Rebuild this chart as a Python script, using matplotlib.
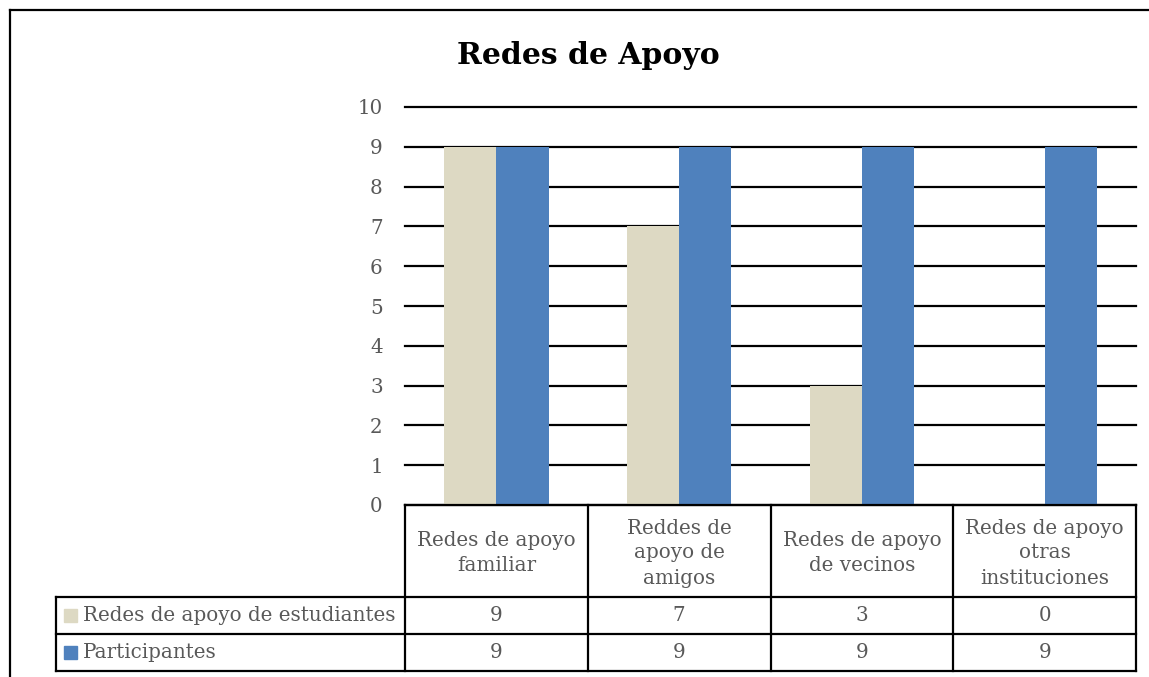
import numpy as np
import matplotlib.pyplot as plt
from matplotlib.lines import Line2D
from matplotlib.patches import Rectangle

plt.rcParams['font.family'] = ['DejaVu Serif']

titulo = 'Redes de Apoyo'
categorias = ['Redes de apoyo\nfamiliar', 'Reddes de\napoyo de\namigos',
              'Redes de apoyo\nde vecinos', 'Redes de apoyo\notras\ninstituciones']
series = ['Redes de apoyo de estudiantes', 'Participantes']
estudiantes = [9, 7, 3, 0]
participantes = [9, 9, 9, 9]
colores = ['#DDD9C3', '#4F81BD']
gris = '#595959'

W, H = 1149, 677
fig = plt.figure(figsize=(W / 100, H / 100), dpi=100)

# pixel helpers (top-left origin)
def fx(px):
    return px / W

def fy(py):
    return 1 - py / H

x0, x1, y0, y1 = 405, 1136, 505, 107
ax = fig.add_axes([fx(x0), fy(y0), fx(x1) - fx(x0), fy(y1) - fy(y0)])

n = len(categorias)
x = np.arange(n) + 0.5
bw = 0.286
ax.bar(x - bw / 2, estudiantes, bw, color=colores[0], zorder=3)
ax.bar(x + bw / 2, participantes, bw, color=colores[1], zorder=3)

ax.set_xlim(0, n)
ax.set_ylim(0, 10)
ax.set_yticks(range(0, 11))
ax.yaxis.grid(True, color='black', linewidth=1.6, zorder=0)
for gl in ax.get_ygridlines():
    gl.set_clip_on(False)
ax.set_axisbelow(True)
fs = 14.3
ax.tick_params(axis='y', length=0, pad=16, labelsize=fs, labelcolor=gris)
ax.set_xticks([])
for s in ax.spines.values():
    s.set_visible(False)

# title
fig.text(fx(588), fy(56), titulo, ha='center', va='center',
         fontsize=21.5, fontweight='bold', color='black')

# outer border
fig.add_artist(Line2D([fx(10), fx(10)], [fy(10), 0], color='black', lw=1.6))
fig.add_artist(Line2D([fx(10), 1], [fy(10), fy(10)], color='black', lw=1.6))

# data table
lw = 1.6
cols = np.linspace(x0, x1, n + 1)
rows = [597, 634, 671]
left = 56
fig.add_artist(Line2D([fx(x0), fx(x1)], [fy(y0), fy(y0)], color='black', lw=lw))
for c in cols:
    fig.add_artist(Line2D([fx(c), fx(c)], [fy(y0), fy(rows[-1])], color='black', lw=lw))
for r in rows:
    fig.add_artist(Line2D([fx(left), fx(x1)], [fy(r), fy(r)], color='black', lw=lw))
fig.add_artist(Line2D([fx(left), fx(left)], [fy(rows[0]), fy(rows[-1])], color='black', lw=lw))

for i, cat in enumerate(categorias):
    cx = (cols[i] + cols[i + 1]) / 2
    fig.text(fx(cx), fy(553), cat, ha='center', va='center',
             fontsize=fs, color=gris, linespacing=1.4)
    fig.text(fx(cx), fy((rows[0] + rows[1]) / 2), str(estudiantes[i]),
             ha='center', va='center', fontsize=fs, color=gris)
    fig.text(fx(cx), fy((rows[1] + rows[2]) / 2), str(participantes[i]),
             ha='center', va='center', fontsize=fs, color=gris)

for j, (name, col) in enumerate(zip(series, colores)):
    cy = (rows[j] + rows[j + 1]) / 2
    fig.add_artist(Rectangle((fx(64), fy(cy + 6)), fx(13), fy(0) - fy(13),
                             color=col, transform=fig.transFigure))
    fig.text(fx(83), fy(cy), name, ha='left', va='center', fontsize=fs, color=gris)

fig.savefig('out.png', dpi=100)
